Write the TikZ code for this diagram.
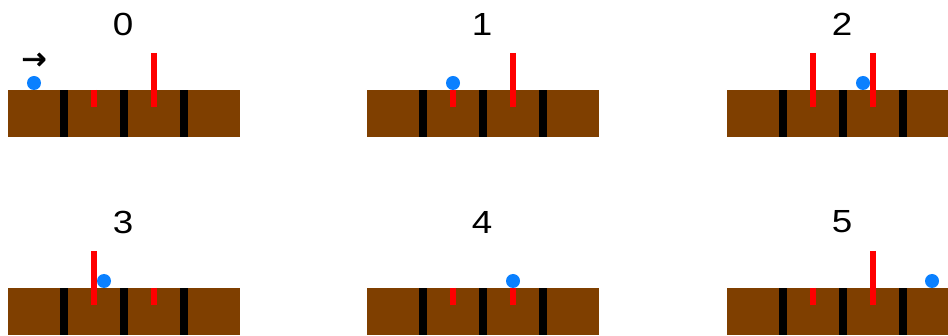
\documentclass[tikz,border=0pt]{standalone}
\usepackage{fontspec}
\setmainfont{Liberation Sans}
\newfontfamily\arrowfont[FakeBold=2.5]{DejaVu Sans}
\definecolor{barbrown}{RGB}{127,63,0}
\definecolor{dotblue}{RGB}{10,128,255}
\definecolor{pinred}{RGB}{255,0,0}
\tikzset{
  barbox/.style={fill=barbrown, draw=none},
  sepbox/.style={fill=black, draw=none},
  pinline/.style={draw=pinred, line width=6pt},
  balldot/.style={fill=dotblue, draw=none},
  steplabel/.style={font=\fontsize{32}{38}\selectfont, inner sep=0pt, xscale=1.15, transform shape},
}
\newcommand{\drawpanel}[6]{%
  % #1 ox, #2 oy, #3 label, #4 top y of pin A, #5 top y of pin B, #6 ball x
  \begin{scope}[shift={(#1,#2)}]
    \fill[barbox] (8,90) rectangle (240,137);
    \foreach \sx in {64,124,184} {\fill[sepbox] (\sx-4,90) rectangle (\sx+4,137);}
    \draw[pinline] (94,#4) -- (94,107);
    \draw[pinline] (154,#5) -- (154,107);
    \fill[balldot] (#6,83) circle (7);
    \node[steplabel] (lab#3) at (123,24) {#3};
  \end{scope}}
\begin{document}
\begin{tikzpicture}[x=1pt,y=-1pt]
  \useasboundingbox (0,0) rectangle (948,336);
  \drawpanel{0}{0}{0}{90}{53}{34}
  \drawpanel{359}{0}{1}{90}{53}{94}
  \drawpanel{719}{0}{2}{53}{53}{144}
  \drawpanel{0}{198}{3}{53}{90}{104}
  \drawpanel{359}{198}{4}{90}{90}{154}
  \drawpanel{719}{198}{5}{90}{53}{213}
  \node[font=\arrowfont\fontsize{30}{34}\selectfont, inner sep=0pt] (dir) at (34,61) {→};
\end{tikzpicture}
\end{document}
